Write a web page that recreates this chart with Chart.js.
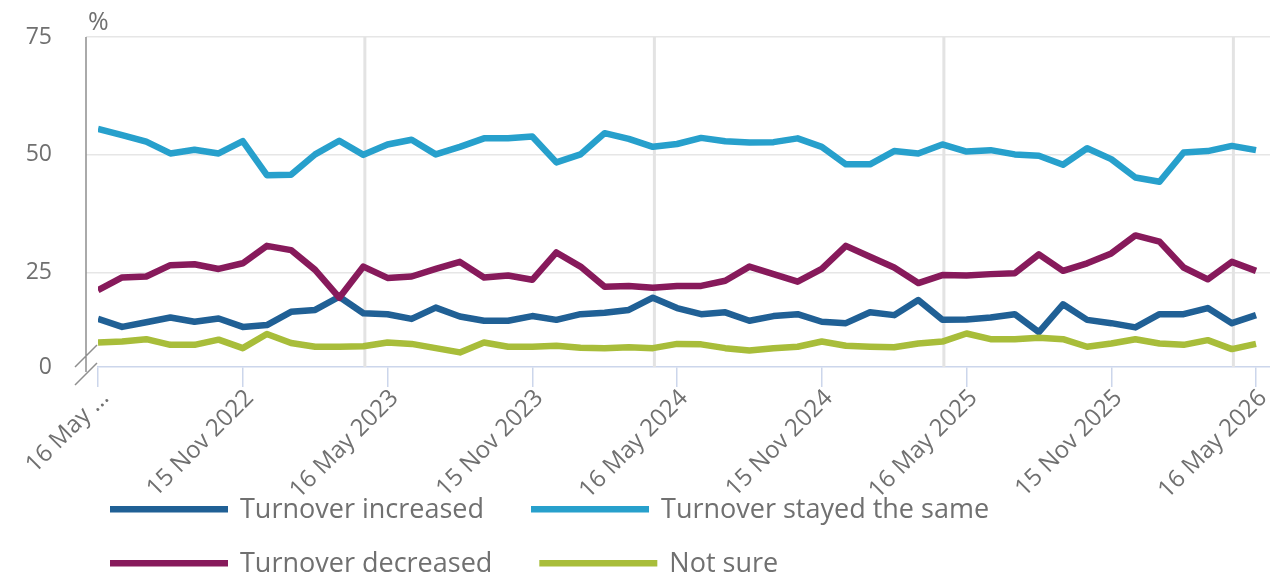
<!DOCTYPE html>
<html>
<head>
<meta charset="utf-8">
<title>Turnover compared with previous month</title>
<script src="https://cdn.jsdelivr.net/npm/chart.js@4"></script>
<style>
  html, body { margin: 0; padding: 0; background: #fff; }
</style>
</head>
<body>
<canvas id="chart" width="1270" height="578"></canvas>
<script>
// survey waves are monthly: index 0 = 16 May 2022 ... index 48 = 16 May 2026
const tickIndex = [0, 6, 12, 18, 24, 30, 36, 42, 48];
const tickLabels = [
  "16 May ...", "15 Nov 2022", "16 May 2023", "15 Nov 2023", "16 May 2024",
  "15 Nov 2024", "16 May 2025", "15 Nov 2025", "16 May 2026"
];
const yearLines = [11, 23, 35, 47];

// y axis is broken below 5, the bottom tick reads 0
const yTickValues = [5, 25, 50, 75];
const yTickLabels = ["0", "25", "50", "75"];
const unitLabel = "%";

const seriesNames = ["Turnover increased", "Turnover stayed the same", "Turnover decreased", "Not sure"];
const seriesColors = ["#206095", "#27a0cc", "#871a5b", "#a8bd3a"];

const turnoverIncreased = [
  15.2, 13.5, 14.5, 15.5, 14.6, 15.3, 13.5, 13.9, 16.7, 17.1,
  19.9, 16.4, 16.2, 15.2, 17.6, 15.7, 14.8, 14.8, 15.8, 15.0,
  16.2, 16.5, 17.1, 19.7, 17.5, 16.2, 16.6, 14.8, 15.8, 16.2,
  14.6, 14.3, 16.6, 16.0, 19.2, 15.0, 15.1, 15.5, 16.2, 12.4,
  18.3, 15.0, 14.3, 13.4, 16.2, 16.2, 17.5, 14.3, 16.0
];
const turnoverSame = [
  55.5, 54.2, 52.8, 50.3, 51.1, 50.3, 52.9, 45.7, 45.8, 50.1,
  53.0, 50.0, 52.2, 53.2, 50.1, 51.7, 53.5, 53.5, 53.9, 48.4,
  50.1, 54.6, 53.4, 51.7, 52.3, 53.6, 52.9, 52.6, 52.7, 53.5,
  51.7, 48.0, 48.0, 50.8, 50.3, 52.2, 50.7, 51.0, 50.1, 49.8,
  47.9, 51.4, 49.1, 45.2, 44.3, 50.5, 50.8, 51.9, 51.0
];
const turnoverDecreased = [
  21.3, 24.0, 24.2, 26.6, 26.8, 25.8, 27.0, 30.7, 29.8, 25.6,
  19.7, 26.3, 23.9, 24.2, 25.8, 27.3, 24.0, 24.4, 23.5, 29.3,
  26.3, 22.0, 22.2, 21.8, 22.2, 22.2, 23.3, 26.3, 24.7, 23.1,
  25.8, 30.7, 28.4, 26.1, 22.8, 24.5, 24.4, 24.7, 24.9, 28.9,
  25.4, 27.0, 29.1, 32.9, 31.6, 26.1, 23.6, 27.3, 25.4
];
const notSure = [
  10.2, 10.4, 10.9, 9.7, 9.7, 10.8, 9.0, 12.0, 10.1, 9.3,
  9.3, 9.4, 10.2, 9.9, 9.0, 8.1, 10.2, 9.3, 9.3, 9.5,
  9.1, 9.0, 9.2, 9.0, 9.9, 9.8, 9.0, 8.5, 9.0, 9.3,
  10.4, 9.5, 9.3, 9.2, 10.0, 10.4, 12.1, 10.9, 10.9, 11.2,
  10.9, 9.3, 10.0, 10.9, 10.0, 9.7, 10.7, 8.8, 9.9
];

const allSeries = [turnoverIncreased, turnoverSame, turnoverDecreased, notSure];

const labelGrey = "#707070";
const fontFamily = '"Open Sans", "Noto Sans", sans-serif';
Chart.defaults.font.family = fontFamily;

// extra drawing: vertical year lines, broken y axis line, unit label, legend
const decorPlugin = {
  id: "decor",
  beforeDatasetsDraw(chart) {
    const { ctx, chartArea, scales } = chart;
    ctx.save();
    ctx.strokeStyle = "#e3e3e3";
    ctx.lineWidth = 3;
    yearLines.forEach((i) => {
      const x = scales.x.getPixelForValue(i) + 1.5;
      ctx.beginPath();
      ctx.moveTo(x, chartArea.top);
      ctx.lineTo(x, chartArea.bottom);
      ctx.stroke();
    });
    ctx.restore();
  },
  afterDraw(chart) {
    const { ctx, chartArea } = chart;
    const ax = chartArea.left - 12;
    const bot = chartArea.bottom;
    ctx.save();

    // y axis line with break marks
    ctx.strokeStyle = "#8f8f8f";
    ctx.lineWidth = 1.5;
    ctx.beginPath();
    ctx.moveTo(ax, chartArea.top);
    ctx.lineTo(ax, bot + 5);
    ctx.moveTo(ax - 11, bot);
    ctx.lineTo(ax + 11, bot - 22);
    ctx.moveTo(ax - 11, bot + 18);
    ctx.lineTo(ax + 11, bot - 4);
    ctx.stroke();

    // unit
    ctx.fillStyle = labelGrey;
    ctx.font = "25px " + fontFamily;
    ctx.textAlign = "left";
    ctx.textBaseline = "alphabetic";
    ctx.fillText(unitLabel, ax + 2, 30);

    // legend, flowing left to right and wrapping
    ctx.font = "27px " + fontFamily;
    ctx.textBaseline = "middle";
    let x = 110;
    let y = 509;
    chart.data.datasets.forEach((ds) => {
      const w = 130 + ctx.measureText(ds.label).width;
      if (x > 110 && x + w > 1180) {
        x = 110;
        y += 54;
      }
      ctx.fillStyle = ds.borderColor;
      ctx.fillRect(x, y - 3, 118, 6.5);
      ctx.fillStyle = labelGrey;
      ctx.fillText(ds.label, x + 130, y + 1);
      x += w + 47;
    });
    ctx.restore();
  }
};

new Chart(document.getElementById("chart"), {
  type: "line",
  data: {
    datasets: allSeries.map((vals, s) => ({
      label: seriesNames[s],
      data: vals.map((v, i) => ({ x: i, y: v })),
      borderColor: seriesColors[s],
      backgroundColor: seriesColors[s],
      borderWidth: 6.5,
      borderJoinStyle: "round",
      pointRadius: 0,
      pointHoverRadius: 0,
      tension: 0,
      order: 4 - s
    }))
  },
  options: {
    responsive: false,
    animation: false,
    layout: { padding: { top: 37, left: 0, right: 0, bottom: 0 } },
    plugins: {
      legend: { display: false },
      tooltip: { enabled: false }
    },
    scales: {
      x: {
        type: "linear",
        min: 0,
        max: 48.58,
        afterBuildTicks(scale) {
          scale.ticks = tickIndex.map((v) => ({ value: v }));
        },
        afterFit(scale) {
          scale.height = 211;
          scale.paddingLeft = 0;
          scale.paddingRight = 0;
        },
        ticks: {
          autoSkip: false,
          minRotation: 45,
          maxRotation: 45,
          padding: -3,
          labelOffset: 7,
          color: labelGrey,
          font: { size: 24 },
          callback: (v, i) => tickLabels[i]
        },
        grid: {
          drawOnChartArea: false,
          drawTicks: true,
          tickLength: 20,
          color: "#ccd6eb",
          lineWidth: 1.5
        },
        border: { display: true, color: "#ccd6eb", width: 1.5 }
      },
      y: {
        type: "linear",
        min: 5,
        max: 75,
        afterBuildTicks(scale) {
          scale.ticks = yTickValues.map((v) => ({ value: v }));
        },
        afterFit(scale) {
          scale.width = 98;
          scale.paddingTop = 0;
          scale.paddingBottom = 0;
        },
        ticks: {
          padding: 34,
          color: labelGrey,
          font: { size: 23 },
          callback: (v, i) => yTickLabels[i]
        },
        grid: {
          drawTicks: true,
          tickLength: 12,
          lineWidth: 1.5,
          color: (c) => (c.tick && c.tick.value === 5 ? "rgba(0,0,0,0)" : "#e6e6e6")
        },
        border: { display: false }
      }
    }
  },
  plugins: [decorPlugin]
});
</script>
</body>
</html>
